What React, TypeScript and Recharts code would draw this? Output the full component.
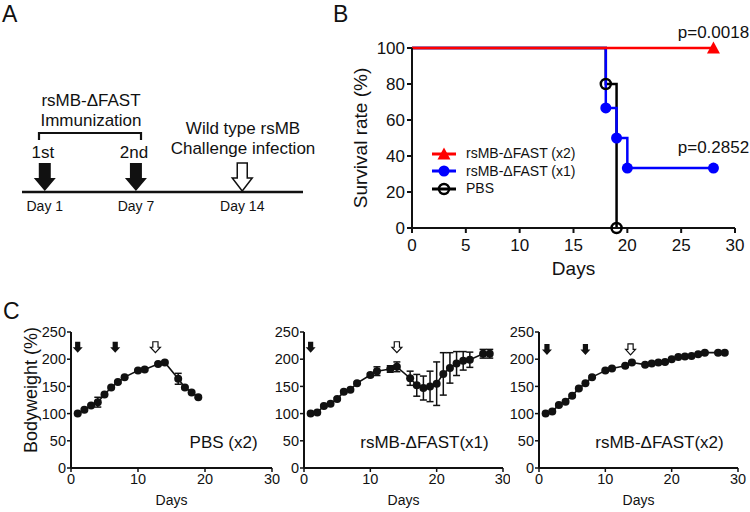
import React from 'react';
import {
  ComposedChart,
  LineChart,
  ScatterChart,
  Line,
  Scatter,
  XAxis,
  YAxis,
  ErrorBar,
  Legend,
  ReferenceDot,
  Customized,
} from 'recharts';

const FONT = '"Liberation Sans", Arial, Helvetica, sans-serif';
const INK = '#111111';

// A: immunization schedule
const scheduleDays = [1, 7, 14];
const scheduleKinds = ['filled', 'filled', 'open'];
const scheduleTags = ['1st', '2nd', ''];

// B: survival (Kaplan-Meier steps)
const survX2Days = [0, 28];
const survX2Vals = [100, 100];
const survX2Marks = [28];
const survX1Days = [0, 18, 19, 20, 28];
const survX1Vals = [100, 66.7, 50, 33.3, 33.3];
const survX1Marks = [18, 19, 20, 28];
const survPbsDays = [0, 18, 19];
const survPbsVals = [100, 80, 0];
const survPbsMarks = [18, 19];
const survXTicks = [0, 5, 10, 15, 20, 25, 30];
const survYTicks = [0, 20, 40, 60, 80, 100];

// C: body weight
const pbsDays = [1, 2, 3, 4, 5, 6, 7, 8, 10, 11, 13, 14, 16, 17, 18, 19];
const pbsWeight = [100, 107, 115, 121, 135, 148, 158, 167, 179, 181, 191, 194, 164, 148, 139, 130];
const pbsErr = [1, 2, 2, 9, 2, 2, 2, 2, 2, 2, 2, 2, 10, 2, 2, 2];
const vacDays = [1, 2, 3, 4, 5, 6, 7, 8, 10, 11, 13, 14, 16, 17, 18, 19, 20, 21, 22, 23, 24, 25, 27, 28];
const x1Weight = [100, 102, 114, 118, 127, 140, 144, 156, 171, 178, 182, 186, 165, 152, 147, 150, 155, 173, 184, 192, 197, 199, 210, 210];
const x1Err = [1, 2, 2, 2, 2, 2, 2, 2, 3, 8, 6, 9, 13, 20, 22, 28, 40, 39, 28, 22, 17, 14, 8, 8];
const x2Weight = [100, 104, 116, 122, 133, 146, 156, 167, 179, 183, 188, 194, 190, 192, 194, 195, 200, 204, 205, 206, 209, 212, 212, 212];
const x2Err = [1, 2, 2, 2, 2, 2, 2, 2, 2, 2, 2, 2, 2, 2, 2, 2, 2, 2, 2, 2, 2, 2, 2, 2];
const pbsArrowDays = [1, 6.6, 12.6];
const pbsArrowKinds = ['filled', 'filled', 'open'];
const x1ArrowDays = [1, 14];
const x1ArrowKinds = ['filled', 'open'];
const x2ArrowDays = [1.2, 7, 13.8];
const x2ArrowKinds = ['filled', 'filled', 'open'];
const bwXTicks = [0, 10, 20, 30];
const bwYTicks = [0, 50, 100, 150, 200, 250];

const zip = (days: number[], vals: number[], errs?: number[]) =>
  days.map((d, i) => ({ day: d, v: vals[i], err: errs ? errs[i] : 0 }));

// ---------- panel A ----------
const BigArrow = (props: any) => {
  const { cx, cy, payload } = props;
  const open = payload.kind === 'open';
  const tip = cy - 1;
  const d = open
    ? `M${cx - 5},${tip - 28}H${cx + 5}V${tip - 13}H${cx + 10}L${cx},${tip}L${cx - 10},${tip - 13}H${cx - 5}Z`
    : `M${cx - 6},${tip - 28}H${cx + 6}V${tip - 13}H${cx + 11}L${cx},${tip}L${cx - 11},${tip - 13}H${cx - 6}Z`;
  return (
    <g>
      <path d={d} fill={open ? '#fff' : INK} stroke={INK} strokeWidth={open ? 1.5 : 0} />
      {payload.tag ? (
        <text x={cx - 2} y={cy - 34} textAnchor="middle" fontSize={17} fill={INK}>
          {payload.tag}
        </text>
      ) : null}
    </g>
  );
};

const ScheduleNotes = () => (
  <g fontSize={17} fill={INK} textAnchor="middle">
    <text x={91} y={106}>rsMB-ΔFAST</text>
    <text x={91} y={126}>Immunization</text>
    <path d="M39,140V133H141V140" fill="none" stroke={INK} strokeWidth={2.2} />
    <text x={243} y={134}>Wild type rsMB</text>
    <text x={243} y={154}>Challenge infection</text>
  </g>
);

const PanelA = () => {
  const data = scheduleDays.map((d, i) => ({ day: d, y: 0, kind: scheduleKinds[i], tag: scheduleTags[i] }));
  return (
    <ScatterChart width={340} height={230} margin={{ top: 0, right: 37, bottom: 0, left: 22 }}>
      <XAxis
        type="number"
        dataKey="day"
        domain={[-0.5, 18]}
        ticks={scheduleDays}
        tickFormatter={(d) => `Day ${d}`}
        tickLine={false}
        axisLine={{ stroke: INK, strokeWidth: 2.5 }}
        tick={{ fontSize: 14, fill: INK }}
        tickMargin={3}
        height={38}
      />
      <YAxis type="number" dataKey="y" domain={[0, 10]} hide />
      <Scatter data={data} shape={BigArrow} isAnimationActive={false} />
      <Customized component={ScheduleNotes} />
    </ScatterChart>
  );
};

// ---------- panel B ----------
const SurvMarker = ({ cx, cy, kind, color }: any) => {
  if (kind === 'tri')
    return <path d={`M${cx},${cy - 6.5}L${cx + 6.5},${cy + 5.5}L${cx - 6.5},${cy + 5.5}Z`} fill={color} />;
  if (kind === 'dot') return <circle cx={cx} cy={cy} r={5.5} fill={color} />;
  return <circle cx={cx} cy={cy} r={5} fill="none" stroke={color} strokeWidth={2.5} />;
};

const survSeries = [
  { name: 'PBS', days: survPbsDays, vals: survPbsVals, marks: survPbsMarks, color: '#000000', kind: 'ring', width: 2.5 },
  { name: 'rsMB-ΔFAST (x1)', days: survX1Days, vals: survX1Vals, marks: survX1Marks, color: '#0000ff', kind: 'dot', width: 2.5 },
  { name: 'rsMB-ΔFAST (x2)', days: survX2Days, vals: survX2Vals, marks: survX2Marks, color: '#ff0000', kind: 'tri', width: 2.6 },
];

const SurvLegend = () => (
  <div style={{ fontFamily: FONT }}>
    {[...survSeries].reverse().map((s) => (
      <div key={s.name} style={{ display: 'flex', alignItems: 'center', height: 17.5 }}>
        <svg width={24} height={14}>
          <line x1={0} x2={24} y1={7} y2={7} stroke={s.color} strokeWidth={3} />
          <SurvMarker cx={12} cy={7} kind={s.kind} color={s.color} />
        </svg>
        <span style={{ marginLeft: 10, fontSize: 14, color: INK, lineHeight: '17px' }}>{s.name}</span>
      </div>
    ))}
  </div>
);

const PanelB = () => (
  <LineChart width={410} height={280} margin={{ top: 48, right: 15, bottom: 22, left: 0 }}>
    <XAxis
      type="number"
      dataKey="day"
      domain={[0, 30]}
      ticks={survXTicks}
      axisLine={{ stroke: INK, strokeWidth: 2 }}
      tickLine={{ stroke: INK, strokeWidth: 2 }}
      tickSize={5}
      tickMargin={6}
      tick={{ fontSize: 17, fill: INK }}
      height={30}
      label={{ value: 'Days', position: 'bottom', offset: 4, fontSize: 19, fill: INK }}
    />
    <YAxis
      type="number"
      domain={[0, 100]}
      ticks={survYTicks}
      width={72}
      axisLine={{ stroke: INK, strokeWidth: 2 }}
      tickLine={{ stroke: INK, strokeWidth: 2 }}
      tickSize={5}
      tickMargin={2}
      tick={{ fontSize: 17, fill: INK }}
      label={{ value: 'Survival rate (%)', angle: -90, position: 'center', dx: -16, fontSize: 19, fill: INK }}
    />
    {survSeries.map((s) => (
      <Line
        key={s.name}
        data={zip(s.days, s.vals)}
        dataKey="v"
        name={s.name}
        type="stepAfter"
        stroke={s.color}
        strokeWidth={s.width}
        isAnimationActive={false}
        dot={(p: any) =>
          s.marks.includes(p.payload.day) ? (
            <SurvMarker key={`${s.name}-${p.index}`} cx={p.cx} cy={p.cy} kind={s.kind} color={s.color} />
          ) : (
            <g key={`${s.name}-${p.index}`} />
          )
        }
        activeDot={false}
      />
    ))}
    <ReferenceDot x={28} y={100} r={1} fill="none" stroke="none"
      label={{ value: 'p=0.0018', position: 'top', offset: 9, fontSize: 17, fill: INK }} />
    <ReferenceDot x={28} y={33.3} r={1} fill="none" stroke="none"
      label={{ value: 'p=0.2852', position: 'top', offset: 14, fontSize: 17, fill: INK }} />
    <Legend
      layout="vertical"
      align="center"
      verticalAlign="middle"
      wrapperStyle={{ left: 92, top: 145, width: 'auto' }}
      content={SurvLegend}
    />
  </LineChart>
);

// ---------- panel C ----------
const SmallArrow = (props: any) => {
  const { cx, cy, payload } = props;
  const open = payload.kind === 'open';
  const d = `M${cx - 2.6},${cy - 5.5}H${cx + 2.6}V${cy}H${cx + 5}L${cx},${cy + 5.5}L${cx - 5},${cy}H${cx - 2.6}Z`;
  return <path d={d} fill={open ? '#fff' : INK} stroke={INK} strokeWidth={open ? 1.2 : 0} />;
};

type BwProps = {
  width: number;
  axisWidth: number;
  right: number;
  rows: { day: number; v: number; err: number }[];
  arrowDays: number[];
  arrowKinds: string[];
  arrowY: number;
  tag: string;
  title?: string;
};

const BodyWeight = ({ width, axisWidth, right, rows, arrowDays, arrowKinds, arrowY, tag, title }: BwProps) => {
  const arrows = arrowDays.map((d, i) => ({ day: d, y: arrowY, kind: arrowKinds[i] }));
  return (
    <ComposedChart width={width} height={212} data={rows} margin={{ top: 32, right, bottom: 24, left: 0 }}>
      <XAxis
        type="number"
        dataKey="day"
        domain={[0, 30]}
        ticks={bwXTicks}
        axisLine={{ stroke: INK, strokeWidth: 2 }}
        tickLine={{ stroke: INK, strokeWidth: 1.5 }}
        tickSize={4}
        tickMargin={2}
        tick={{ fontSize: 14.5, fill: INK }}
        height={20}
        label={{ value: 'Days', position: 'bottom', offset: 7, fontSize: 14, fill: INK }}
      />
      <YAxis
        type="number"
        domain={[0, 250]}
        ticks={bwYTicks}
        width={axisWidth}
        axisLine={{ stroke: INK, strokeWidth: 2 }}
        tickLine={{ stroke: INK, strokeWidth: 1.5 }}
        tickSize={4}
        tickMargin={1}
        tick={{ fontSize: 14.5, fill: INK }}
        label={
          title
            ? { value: title, angle: -90, position: 'center', dx: -5, dy: -10, fontSize: 18, fill: INK }
            : undefined
        }
      />
      <Line
        dataKey="v"
        type="linear"
        stroke={INK}
        strokeWidth={1.6}
        dot={{ r: 4, fill: INK, stroke: INK, strokeWidth: 0 }}
        activeDot={false}
        isAnimationActive={false}
      >
        <ErrorBar dataKey="err" width={3.5} stroke={INK} strokeWidth={1.5} direction="y" />
      </Line>
      <Scatter data={arrows} dataKey="y" shape={SmallArrow} isAnimationActive={false} />
      <ReferenceDot x={28} y={47} r={1} fill="none" stroke="none"
        label={{ value: tag, position: 'left', offset: 0, fontSize: 17, fill: INK }} />
    </ComposedChart>
  );
};

const Letter = ({ text, left, top }: { text: string; left: number; top: number }) => (
  <div style={{ position: 'absolute', left, top, fontSize: 23, lineHeight: 1, color: INK }}>{text}</div>
);

export default function App() {
  return (
    <div
      style={{
        position: 'absolute',
        left: 0,
        top: 0,
        width: 750,
        height: 512,
        background: '#ffffff',
        fontFamily: FONT,
        overflow: 'hidden',
      }}
    >
      <div style={{ position: 'absolute', left: 0, top: 0 }}>
        <PanelA />
      </div>
      <div style={{ position: 'absolute', left: 340, top: 0 }}>
        <PanelB />
      </div>
      <div style={{ position: 'absolute', left: 0, top: 300 }}>
        <BodyWeight width={280} axisWidth={71} right={8} rows={zip(pbsDays, pbsWeight, pbsErr)}
          arrowDays={pbsArrowDays} arrowKinds={pbsArrowKinds} arrowY={222} tag="PBS (x2)" title="Bodyweight (%)" />
      </div>
      <div style={{ position: 'absolute', left: 260, top: 300 }}>
        <BodyWeight width={250} axisWidth={44} right={7} rows={zip(vacDays, x1Weight, x1Err)}
          arrowDays={x1ArrowDays} arrowKinds={x1ArrowKinds} arrowY={222} tag="rsMB-ΔFAST(x1)" />
      </div>
      <div style={{ position: 'absolute', left: 495, top: 300 }}>
        <BodyWeight width={255} axisWidth={44} right={12} rows={zip(vacDays, x2Weight, x2Err)}
          arrowDays={x2ArrowDays} arrowKinds={x2ArrowKinds} arrowY={218} tag="rsMB-ΔFAST(x2)" />
      </div>
      <Letter text="A" left={2} top={3} />
      <Letter text="B" left={333} top={3} />
      <Letter text="C" left={3} top={300} />
    </div>
  );
}
